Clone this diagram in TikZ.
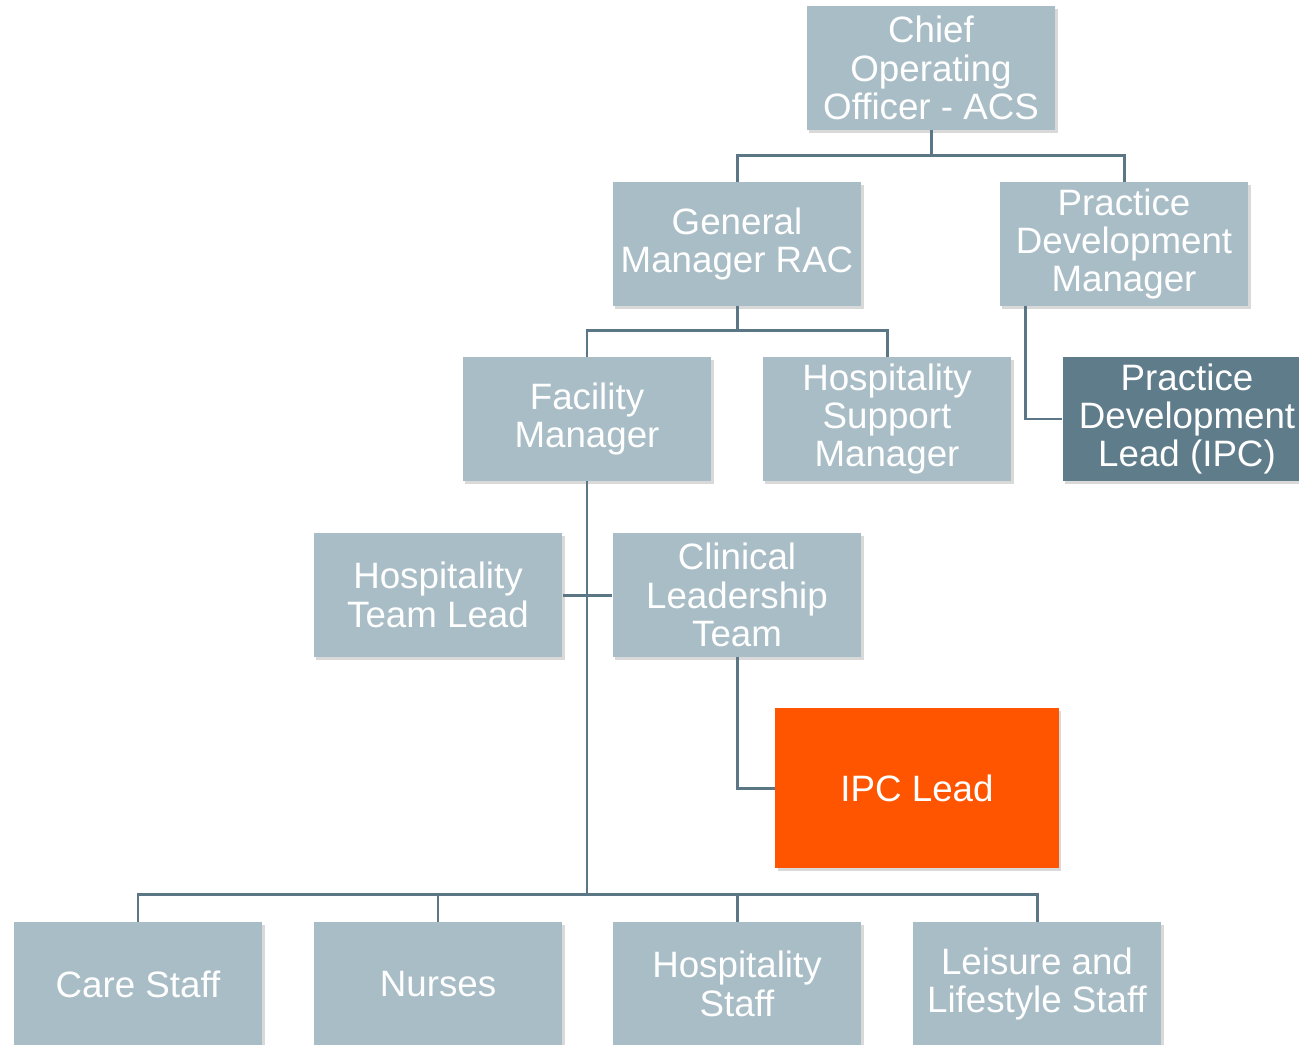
\documentclass[tikz,border=0pt]{standalone}
\usepackage{fontspec}
\setmainfont{Liberation Sans}
\usepackage{tikz}
\usetikzlibrary{calc,shadows}

\definecolor{boxgrey}{HTML}{A9BDC6}
\definecolor{boxdark}{HTML}{5F7C8A}
\definecolor{boxorange}{HTML}{FF5400}
\definecolor{linkcol}{HTML}{5B7684}

\tikzset{
    role/.style={fill=boxgrey, text=white, align=center, inner sep=0pt,
        minimum width=4.98cm, minimum height=2.48cm,
        font=\fontsize{20.9}{21.8}\selectfont,
        drop shadow={shadow xshift=0.05cm, shadow yshift=-0.06cm, opacity=0.3}},
    link/.style={draw=linkcol, line width=1.7pt}
}

\begin{document}
\begin{tikzpicture}[x=0.02cm, y=-0.02cm]
    \useasboundingbox (0,0) rectangle (1299,1045);
    \clip (0,0) rectangle (1299,1045);
    \node[role] (coo) at (931,68) {Chief\\Operating\\Officer - ACS};
    \node[role] (gmrac) at (737,244) {General\\Manager RAC};
    \node[role] (pdm) at (1124,244) {Practice\\Development\\Manager};
    \node[role] (fm) at (587,419) {Facility\\Manager};
    \node[role] (hsm) at (887,419) {Hospitality\\Support\\Manager};
    \node[role, fill=boxdark] (pdl) at (1187,419) {Practice\\Development\\Lead (IPC)};
    \node[role] (htl) at (438,595) {Hospitality\\Team Lead};
    \node[role] (clt) at (737,595) {Clinical\\Leadership\\Team};
    \node[role, fill=boxorange, minimum width=5.68cm, minimum height=3.22cm] (ipc) at (917,788) {IPC Lead};
    \node[role] (care) at (138,984) {Care Staff};
    \node[role] (nurses) at (438,984) {Nurses};
    \node[role] (hstaff) at (737,984) {Hospitality\\Staff};
    \node[role] (leisure) at (1037,984) {Leisure and\\Lifestyle Staff};
    \coordinate (bus) at (587,895);
    \draw[link] (coo.south) -- ++(0,26);
    \draw[link] (gmrac.north) -- ++(0,-26) -| (pdm.north);
    \draw[link] (gmrac.south) -- ++(0,25);
    \draw[link] (fm.north) -- ++(0,-26) -| (hsm.north);
    \draw[link] ($(pdm.south west)+(26,0)$) |- (pdl.west);
    \draw[link] (fm.south) -- (bus);
    \draw[link] (htl.east) -- (clt.west);
    \draw[link] (clt.south) |- (ipc.west);
    \draw[link] (care.north) -- ++(0,-27) -| (leisure.north);
    \draw[link] (nurses.north) -- ++(0,-27);
    \draw[link] (hstaff.north) -- ++(0,-27);
\end{tikzpicture}
\end{document}
